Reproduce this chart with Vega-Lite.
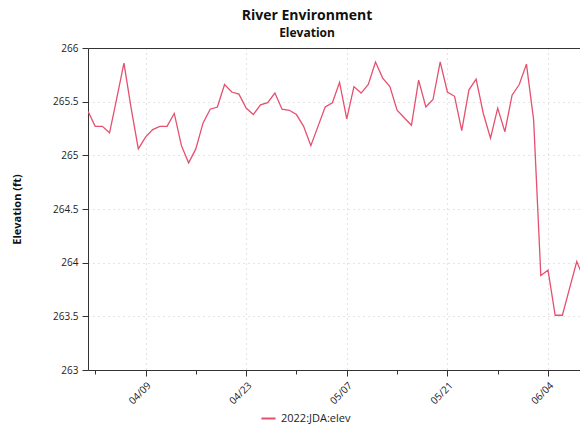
{
  "$schema": "https://vega.github.io/schema/vega-lite/v6.json",
  "autosize": {"type": "none"},
  "padding": {"left": 88, "top": 48, "right": 0, "bottom": 56},
  "width": 492,
  "height": 322,
  "config": {
    "font": "Open Sans",
    "view": {"stroke": null},
    "axis": {"labelFont": "Open Sans", "labelFontSize": 10, "labelColor": "#222", "titleFont": "Open Sans", "titleColor": "#111", "domainColor": "#333", "tickColor": "#333", "gridColor": "#cccccc", "gridDash": [1, 4], "gridWidth": 1.2}
  },
  "title": {"text": "River Environment", "subtitle": "Elevation", "fontSize": 14, "fontWeight": "bold", "subtitleFontSize": 12, "subtitleFontWeight": "bold", "subtitleColor": "#111", "color": "#111", "anchor": "middle", "dx": -27, "offset": 4, "subtitlePadding": 5},
  "data": {"values": [
    {"date": "2022-04-01", "elev": 265.41, "series": "2022:JDA:elev"},
    {"date": "2022-04-02", "elev": 265.27, "series": "2022:JDA:elev"},
    {"date": "2022-04-03", "elev": 265.27, "series": "2022:JDA:elev"},
    {"date": "2022-04-04", "elev": 265.21, "series": "2022:JDA:elev"},
    {"date": "2022-04-05", "elev": 265.53, "series": "2022:JDA:elev"},
    {"date": "2022-04-06", "elev": 265.86, "series": "2022:JDA:elev"},
    {"date": "2022-04-07", "elev": 265.44, "series": "2022:JDA:elev"},
    {"date": "2022-04-08", "elev": 265.06, "series": "2022:JDA:elev"},
    {"date": "2022-04-09", "elev": 265.17, "series": "2022:JDA:elev"},
    {"date": "2022-04-10", "elev": 265.24, "series": "2022:JDA:elev"},
    {"date": "2022-04-11", "elev": 265.27, "series": "2022:JDA:elev"},
    {"date": "2022-04-12", "elev": 265.27, "series": "2022:JDA:elev"},
    {"date": "2022-04-13", "elev": 265.39, "series": "2022:JDA:elev"},
    {"date": "2022-04-14", "elev": 265.09, "series": "2022:JDA:elev"},
    {"date": "2022-04-15", "elev": 264.93, "series": "2022:JDA:elev"},
    {"date": "2022-04-16", "elev": 265.06, "series": "2022:JDA:elev"},
    {"date": "2022-04-17", "elev": 265.30, "series": "2022:JDA:elev"},
    {"date": "2022-04-18", "elev": 265.43, "series": "2022:JDA:elev"},
    {"date": "2022-04-19", "elev": 265.45, "series": "2022:JDA:elev"},
    {"date": "2022-04-20", "elev": 265.66, "series": "2022:JDA:elev"},
    {"date": "2022-04-21", "elev": 265.59, "series": "2022:JDA:elev"},
    {"date": "2022-04-22", "elev": 265.57, "series": "2022:JDA:elev"},
    {"date": "2022-04-23", "elev": 265.44, "series": "2022:JDA:elev"},
    {"date": "2022-04-24", "elev": 265.38, "series": "2022:JDA:elev"},
    {"date": "2022-04-25", "elev": 265.47, "series": "2022:JDA:elev"},
    {"date": "2022-04-26", "elev": 265.49, "series": "2022:JDA:elev"},
    {"date": "2022-04-27", "elev": 265.58, "series": "2022:JDA:elev"},
    {"date": "2022-04-28", "elev": 265.43, "series": "2022:JDA:elev"},
    {"date": "2022-04-29", "elev": 265.42, "series": "2022:JDA:elev"},
    {"date": "2022-04-30", "elev": 265.38, "series": "2022:JDA:elev"},
    {"date": "2022-05-01", "elev": 265.27, "series": "2022:JDA:elev"},
    {"date": "2022-05-02", "elev": 265.09, "series": "2022:JDA:elev"},
    {"date": "2022-05-03", "elev": 265.27, "series": "2022:JDA:elev"},
    {"date": "2022-05-04", "elev": 265.45, "series": "2022:JDA:elev"},
    {"date": "2022-05-05", "elev": 265.49, "series": "2022:JDA:elev"},
    {"date": "2022-05-06", "elev": 265.68, "series": "2022:JDA:elev"},
    {"date": "2022-05-07", "elev": 265.34, "series": "2022:JDA:elev"},
    {"date": "2022-05-08", "elev": 265.64, "series": "2022:JDA:elev"},
    {"date": "2022-05-09", "elev": 265.58, "series": "2022:JDA:elev"},
    {"date": "2022-05-10", "elev": 265.66, "series": "2022:JDA:elev"},
    {"date": "2022-05-11", "elev": 265.87, "series": "2022:JDA:elev"},
    {"date": "2022-05-12", "elev": 265.72, "series": "2022:JDA:elev"},
    {"date": "2022-05-13", "elev": 265.64, "series": "2022:JDA:elev"},
    {"date": "2022-05-14", "elev": 265.42, "series": "2022:JDA:elev"},
    {"date": "2022-05-15", "elev": 265.35, "series": "2022:JDA:elev"},
    {"date": "2022-05-16", "elev": 265.28, "series": "2022:JDA:elev"},
    {"date": "2022-05-17", "elev": 265.70, "series": "2022:JDA:elev"},
    {"date": "2022-05-18", "elev": 265.45, "series": "2022:JDA:elev"},
    {"date": "2022-05-19", "elev": 265.52, "series": "2022:JDA:elev"},
    {"date": "2022-05-20", "elev": 265.87, "series": "2022:JDA:elev"},
    {"date": "2022-05-21", "elev": 265.59, "series": "2022:JDA:elev"},
    {"date": "2022-05-22", "elev": 265.55, "series": "2022:JDA:elev"},
    {"date": "2022-05-23", "elev": 265.23, "series": "2022:JDA:elev"},
    {"date": "2022-05-24", "elev": 265.61, "series": "2022:JDA:elev"},
    {"date": "2022-05-25", "elev": 265.71, "series": "2022:JDA:elev"},
    {"date": "2022-05-26", "elev": 265.39, "series": "2022:JDA:elev"},
    {"date": "2022-05-27", "elev": 265.16, "series": "2022:JDA:elev"},
    {"date": "2022-05-28", "elev": 265.44, "series": "2022:JDA:elev"},
    {"date": "2022-05-29", "elev": 265.22, "series": "2022:JDA:elev"},
    {"date": "2022-05-30", "elev": 265.56, "series": "2022:JDA:elev"},
    {"date": "2022-05-31", "elev": 265.66, "series": "2022:JDA:elev"},
    {"date": "2022-06-01", "elev": 265.85, "series": "2022:JDA:elev"},
    {"date": "2022-06-02", "elev": 265.33, "series": "2022:JDA:elev"},
    {"date": "2022-06-03", "elev": 263.88, "series": "2022:JDA:elev"},
    {"date": "2022-06-04", "elev": 263.93, "series": "2022:JDA:elev"},
    {"date": "2022-06-05", "elev": 263.51, "series": "2022:JDA:elev"},
    {"date": "2022-06-06", "elev": 263.51, "series": "2022:JDA:elev"},
    {"date": "2022-06-07", "elev": 263.76, "series": "2022:JDA:elev"},
    {"date": "2022-06-08", "elev": 264.01, "series": "2022:JDA:elev"},
    {"date": "2022-06-09", "elev": 263.85, "series": "2022:JDA:elev"}
  ]},
  "layer": [
    {
      "mark": {"type": "line", "clip": true, "strokeWidth": 1.3},
      "encoding": {
        "x": {
          "field": "date", "type": "temporal",
          "scale": {"type": "utc", "domain": [{"year": 2022, "month": 4, "date": 1, "utc": true}, {"year": 2022, "month": 6, "date": 8, "hours": 10, "minutes": 50, "utc": true}]},
          "axis": {
            "title": null,
            "orient": "bottom",
            "values": [
              {"year": 2022, "month": 4, "date": 2, "utc": true},
              {"year": 2022, "month": 4, "date": 9, "utc": true},
              {"year": 2022, "month": 4, "date": 16, "utc": true},
              {"year": 2022, "month": 4, "date": 23, "utc": true},
              {"year": 2022, "month": 4, "date": 30, "utc": true},
              {"year": 2022, "month": 5, "date": 7, "utc": true},
              {"year": 2022, "month": 5, "date": 14, "utc": true},
              {"year": 2022, "month": 5, "date": 21, "utc": true},
              {"year": 2022, "month": 5, "date": 28, "utc": true},
              {"year": 2022, "month": 6, "date": 4, "utc": true}
            ],
            "labelExpr": "indexof(['04/09','04/23','05/07','05/21','06/04'], utcFormat(datum.value, '%m/%d')) >= 0 ? utcFormat(datum.value, '%m/%d') : ''",
            "labelAngle": -45,
            "labelAlign": "right",
            "labelBaseline": "top",
            "labelPadding": 4,
            "tickSize": {"condition": {"test": "indexof(['04/09','04/23','05/07','05/21','06/04'], utcFormat(datum.value, '%m/%d')) >= 0", "value": 6}, "value": 4},
            "gridOpacity": {"condition": {"test": "indexof(['04/09','04/23','05/07','05/21','06/04'], utcFormat(datum.value, '%m/%d')) >= 0", "value": 1}, "value": 0},
            "labelOverlap": false,
            "labelBound": false,
            "labelFlush": false
          }
        },
        "y": {
          "field": "elev", "type": "quantitative",
          "scale": {"domain": [263, 266], "nice": false, "zero": false},
          "axis": {"title": "Elevation (ft)", "titleFontSize": 11, "titleFontWeight": "bold", "titlePadding": 30, "values": [263, 263.5, 264, 264.5, 265, 265.5, 266], "format": "~g", "tickSize": 6, "labelPadding": 4}
        },
        "color": {
          "field": "series", "type": "nominal",
          "scale": {"range": ["#e5506f"]},
          "legend": {"title": null, "orient": "none", "legendX": 172, "legendY": 362, "labelFont": "Open Sans", "labelFontSize": 11, "labelColor": "#222", "symbolType": "stroke", "symbolSize": 200, "symbolStrokeWidth": 2}
        }
      }
    },
    {
      "mark": {"type": "line", "opacity": 0},
      "encoding": {
        "x": {"field": "date", "type": "temporal", "axis": {"orient": "top", "title": null, "labels": false, "ticks": false, "grid": false, "domain": true}}
      }
    }
  ],
  "resolve": {"axis": {"x": "independent"}}
}
